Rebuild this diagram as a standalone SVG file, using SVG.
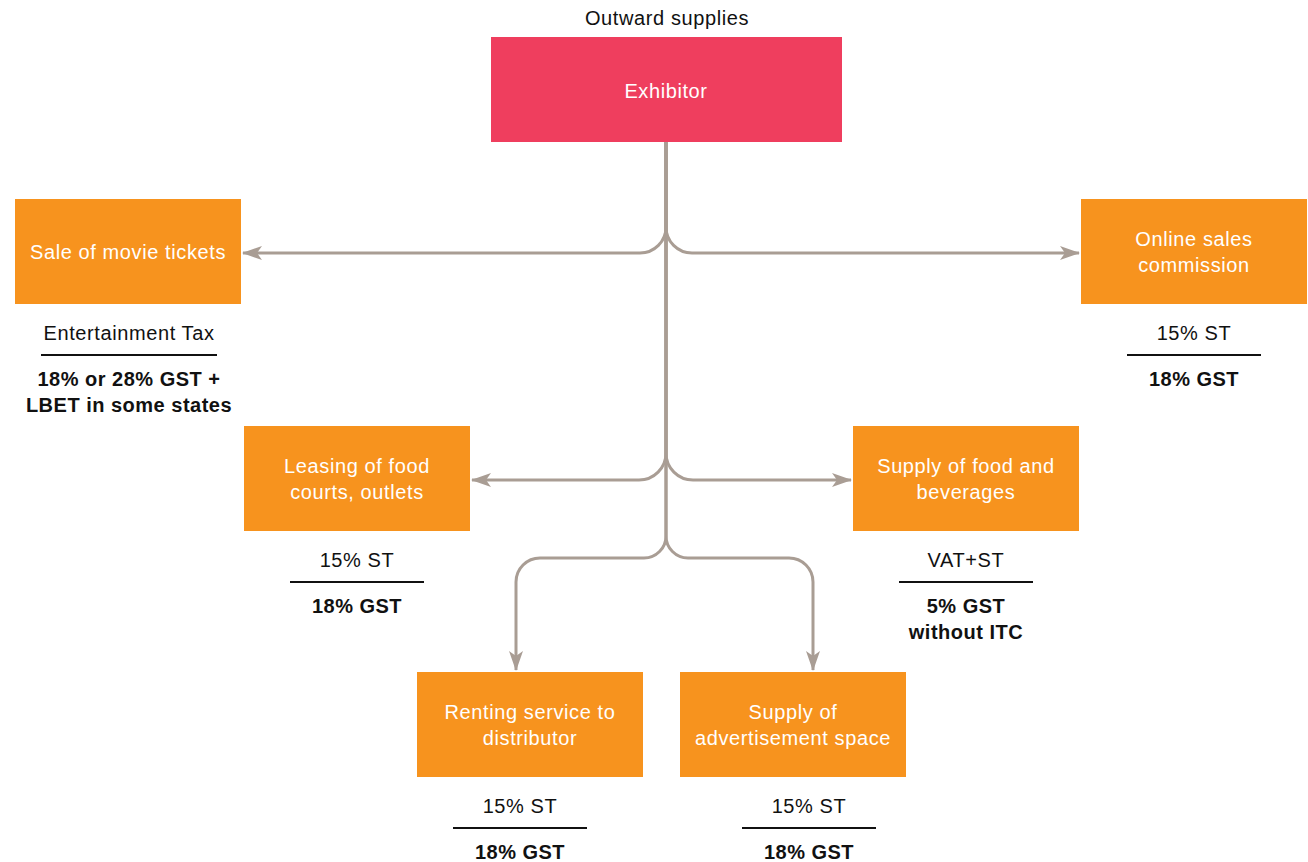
<svg xmlns="http://www.w3.org/2000/svg" width="1308" height="862" viewBox="0 0 1308 862">
<style>
.node{fill:#F7931E}
.root{fill:#EF3E5E}
.nt{font-family:"Liberation Sans",Arial,sans-serif;font-size:20px;letter-spacing:0.6px;fill:#FFFFFF;text-anchor:middle}
.lt{font-family:"Liberation Sans",Arial,sans-serif;font-size:20px;letter-spacing:0.6px;fill:#111111;text-anchor:middle}
.bt{font-family:"Liberation Sans",Arial,sans-serif;font-size:20px;letter-spacing:0.5px;font-weight:bold;fill:#111111;text-anchor:middle}
.rule{stroke:#111111;stroke-width:2}
.conn{fill:none;stroke:#A99D94;stroke-width:3}
</style>
<defs>
<marker id="arr" viewBox="0 0 20 14" refX="19" refY="7" markerWidth="20" markerHeight="14" markerUnits="userSpaceOnUse" orient="auto">
<path d="M0,0 L20,7 L0,14 L5,7 Z" fill="#A99D94"/>
</marker>
</defs>
<text class="lt" x="667" y="25">Outward supplies</text>
<g id="connectors">
<path class="conn" d="M666,142 V227 A26,26 0 0 1 640,253 H243" marker-end="url(#arr)"/>
<path class="conn" d="M666,142 V227 A26,26 0 0 0 692,253 H1079" marker-end="url(#arr)"/>
<path class="conn" d="M666,142 V453 A27,27 0 0 1 639,480 H472" marker-end="url(#arr)"/>
<path class="conn" d="M666,142 V453 A27,27 0 0 0 693,480 H851" marker-end="url(#arr)"/>
<path class="conn" d="M666,142 V536 A22,22 0 0 1 644,558 H540 A24,24 0 0 0 516,582 V670" marker-end="url(#arr)"/>
<path class="conn" d="M666,142 V536 A22,22 0 0 0 688,558 H789 A24,24 0 0 1 813,582 V670" marker-end="url(#arr)"/>
</g>
<g id="exhibitor">
<rect class="root" x="491" y="37" width="351" height="105"/>
<text class="nt" x="666" y="98">Exhibitor</text>
</g>
<g id="movie-tickets">
<rect class="node" x="15" y="199" width="226" height="105"/>
<text class="nt" x="128" y="259">Sale of movie tickets</text>
<text class="lt" x="129" y="340">Entertainment Tax</text>
<line class="rule" x1="41" y1="355" x2="217" y2="355"/>
<text class="bt" x="129" y="386">18% or 28% GST +</text>
<text class="bt" x="129" y="412">LBET in some states</text>
</g>
<g id="online-sales">
<rect class="node" x="1081" y="199" width="226" height="105"/>
<text class="nt" x="1194" y="246">Online sales</text>
<text class="nt" x="1194" y="272">commission</text>
<text class="lt" x="1194" y="340">15% ST</text>
<line class="rule" x1="1127" y1="355" x2="1261" y2="355"/>
<text class="bt" x="1194" y="386">18% GST</text>
</g>
<g id="leasing">
<rect class="node" x="244" y="426" width="226" height="105"/>
<text class="nt" x="357" y="473">Leasing of food</text>
<text class="nt" x="357" y="499">courts, outlets</text>
<text class="lt" x="357" y="567">15% ST</text>
<line class="rule" x1="290" y1="582" x2="424" y2="582"/>
<text class="bt" x="357" y="613">18% GST</text>
</g>
<g id="food-beverages">
<rect class="node" x="853" y="426" width="226" height="105"/>
<text class="nt" x="966" y="473">Supply of food and</text>
<text class="nt" x="966" y="499">beverages</text>
<text class="lt" x="966" y="567">VAT+ST</text>
<line class="rule" x1="899" y1="582" x2="1033" y2="582"/>
<text class="bt" x="966" y="613">5% GST</text>
<text class="bt" x="966" y="639">without ITC</text>
</g>
<g id="renting">
<rect class="node" x="417" y="672" width="226" height="105"/>
<text class="nt" x="530" y="719">Renting service to</text>
<text class="nt" x="530" y="745">distributor</text>
<text class="lt" x="520" y="813">15% ST</text>
<line class="rule" x1="453" y1="828" x2="587" y2="828"/>
<text class="bt" x="520" y="859">18% GST</text>
</g>
<g id="advertisement">
<rect class="node" x="680" y="672" width="226" height="105"/>
<text class="nt" x="793" y="719">Supply of</text>
<text class="nt" x="793" y="745">advertisement space</text>
<text class="lt" x="809" y="813">15% ST</text>
<line class="rule" x1="742" y1="828" x2="876" y2="828"/>
<text class="bt" x="809" y="859">18% GST</text>
</g>
</svg>
